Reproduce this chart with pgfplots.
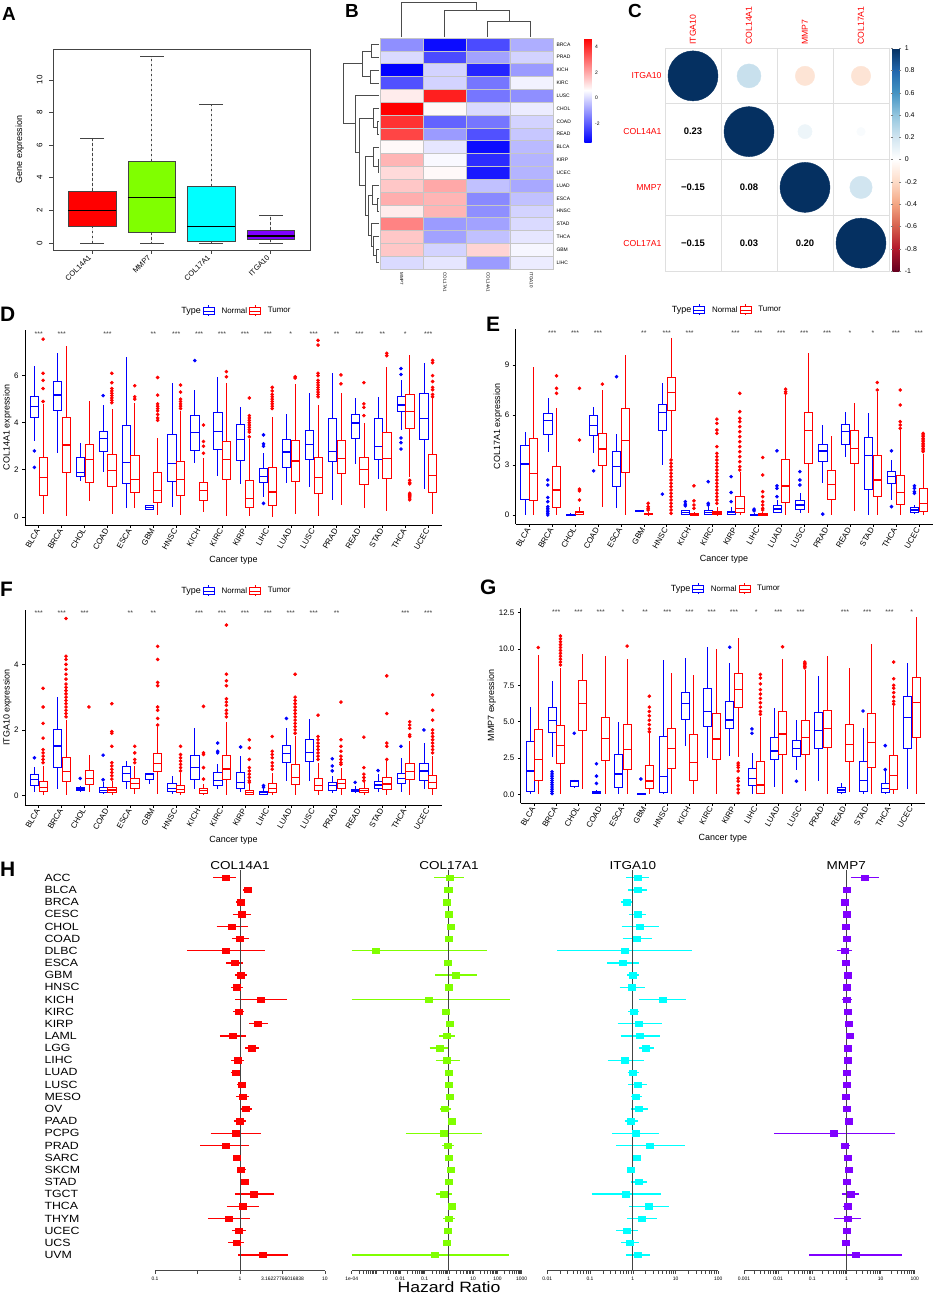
\documentclass[border=0pt]{standalone}
\usepackage{fontspec}
\setmainfont{Liberation Sans}
\newfontfamily\wide[FakeStretch=1.18]{Liberation Sans}
\usepackage{pgfplots}
\pgfplotsset{compat=1.18}
\usepgfplotslibrary{statistics}
\definecolor{lgreen}{HTML}{80FF00}
\definecolor{cyn}{HTML}{00FFFF}
\definecolor{vio}{HTML}{8000FF}
\definecolor{dkgray}{HTML}{444444}
\definecolor{nblue}{HTML}{0000FF}
\definecolor{tred}{HTML}{FF0000}
\newcommand{\fs}[1]{\fontsize{#1}{#1}\selectfont}

\pgfplotsset{
  /pgf/number format/assume math mode=true,
  colormap={bwr}{rgb255=(0,0,255) rgb255=(255,255,255) rgb255=(255,0,0)},
  colormap={rdbu}{rgb255=(103,0,31) rgb255=(178,24,43) rgb255=(214,96,77) rgb255=(244,165,130) rgb255=(253,219,199) rgb255=(255,255,255) rgb255=(209,229,240) rgb255=(146,197,222) rgb255=(67,147,195) rgb255=(33,102,172) rgb255=(5,48,97)},
  boxkey/.style={legend image code/.code={\draw[##1,line width=0.6pt] (0bp,-3.5bp) rectangle (11bp,3.5bp) (0bp,0bp)--(11bp,0bp) (5.5bp,3.5bp)--(5.5bp,5.5bp) (5.5bp,-3.5bp)--(5.5bp,-5.5bp);}},
  stars/.style={only marks, mark=text, text mark={}, nodes near coords,
    point meta=explicit symbolic, nodes near coords style={anchor=center, text=black!75, font=\fs{7}}},
  gg/.style={scale only axis, width=417bp, height=195bp, xmin=0.4, xmax=18.6,
    xtick={1,...,18},
    xticklabels={BLCA,BRCA,CHOL,COAD,ESCA,GBM,HNSC,KICH,KIRC,KIRP,LIHC,LUAD,LUSC,PRAD,READ,STAD,THCA,UCEC},
    axis x line*=bottom, axis y line*=left, tick align=outside, major tick length=2.8bp,
    tick style={black, line width=0.5pt}, axis line style={line width=0.6pt},
    xticklabel style={rotate=60, anchor=east, font=\fs{8}, inner sep=1.5bp},
    yticklabel style={font=\fs{8}},
    xlabel={Cancer type}, xlabel style={font=\fs{9}}, ylabel style={font=\fs{9}}, ylabel shift=-4bp,
    boxplot/draw direction=y, boxplot/box extend=0.36, boxplot/whisker extend=0,
    legend style={at={(0.5,1)}, anchor=south, yshift=11bp, draw=none, fill=none, font=\fs{8},
      legend columns=3, /tikz/every odd column/.append style={column sep=5bp}}},
  forestax/.style={scale only axis, height=401.6bp, ymin=-0.3, ymax=32.7,
    axis x line*=bottom, axis y line*=left, y axis line style={draw=none}, ytick style={draw=none},
    ytick=\empty, tick align=outside, major tick length=3bp,
    x axis line style={gray!55!black, line width=0.8pt}, xtick style={gray!55!black, line width=0.6pt},
    xticklabel style={font=\fs{5}}, title style={font=\wide\fs{11.5}, anchor=base, yshift=-6bp}, clip=false},
}

% box of the grouped box plots: position, colour, lower whisker, q1, median, q3, upper whisker, outliers
% (the -50 row lies outside every axis and is clipped away; it keeps the plot non-empty)
\newcommand{\bx}[8]{\addplot[color=#2, draw=#2, line width=0.6pt, mark=*, mark size=1.5bp, mark options={fill=#2, draw=#2},
  boxplot/every box/.style={draw=#2, fill=white, line width=0.6pt},
  boxplot/every whisker/.style={draw=#2, line width=0.6pt},
  boxplot/every median/.style={draw=#2, line width=1.2pt},
  boxplot prepared={draw position=#1, lower whisker=#3, lower quartile=#4, median=#5, upper quartile=#6, upper whisker=#7}]
  table[row sep=\\, y index=0] {v\\-50\\#8};}
\newcommand{\bN}[7]{\bx{#1-0.19}{nblue}{#2}{#3}{#4}{#5}{#6}{#7}}
\newcommand{\bT}[7]{\bx{#1+0.19}{tred}{#2}{#3}{#4}{#5}{#6}{#7}}
% forest row: y, HR, lower, upper
\newcommand{\fr}[4]{\addplot[draw=\fcol, line width=1.3bp] coordinates {(#3,#1)(#4,#1)};
  \addplot[draw=\fcol, fill=\fcol, only marks, mark=square*, mark size=2.7bp, mark options={xscale=1.3}] coordinates {(#2,#1)};}

\begin{document}
\begin{tikzpicture}
\useasboundingbox (0,0) rectangle (934bp,-1293bp);

% ---------- dendrograms of B, pixel coordinates
\begin{axis}[at={(0bp,-1293bp)}, anchor=south west, scale only axis, width=934bp, height=1293bp,
  xmin=0, xmax=934, ymin=0, ymax=1293, y dir=reverse, hide axis, clip=false]
\addplot[gray!60!black, line width=0.5pt, unbounded coords=jump] coordinates {
 (487.3,37)(487.3,21)(530.6,21)(530.6,37) (nan,nan)
 (444.1,37)(444.1,10)(509,10)(509,21) (nan,nan)
 (401.6,37)(401.6,2)(476.5,2)(476.5,10) (nan,nan)
 (379,44.4)(371,44.4)(371,57.2)(379,57.2) (nan,nan)
 (379,70)(370,70)(370,82.8)(379,82.8) (nan,nan)
 (371,50.8)(362,50.8)(362,76.4)(370,76.4) (nan,nan)
 (379,121.2)(377,121.2)(377,134)(379,134) (nan,nan)
 (379,108.4)(373,108.4)(373,127.6)(377,127.6) (nan,nan)
 (379,159.6)(378,159.6)(378,172.4)(379,172.4) (nan,nan)
 (379,146.8)(373,146.8)(373,166)(378,166) (nan,nan)
 (379,198)(377,198)(377,210.8)(379,210.8) (nan,nan)
 (379,185.2)(372,185.2)(372,204.4)(377,204.4) (nan,nan)
 (379,249.2)(376,249.2)(376,262)(379,262) (nan,nan)
 (379,236.4)(373,236.4)(373,255.6)(376,255.6) (nan,nan)
 (379,223.6)(371,223.6)(371,246)(373,246) (nan,nan)
 (372,194.8)(368,194.8)(368,234.8)(371,234.8) (nan,nan)
 (373,156.4)(365,156.4)(365,214.8)(368,214.8) (nan,nan)
 (373,118)(359,118)(359,185.6)(365,185.6) (nan,nan)
 (379,95.6)(355,95.6)(355,151.8)(359,151.8) (nan,nan)
 (362,63.6)(343,63.6)(343,123.7)(355,123.7)
};
\end{axis}

% ---------- A
\begin{axis}[at={(53bp,-250bp)}, anchor=south west, scale only axis, width=257bp, height=201bp,
  xmin=0.34, xmax=4.66, ymin=-0.43, ymax=11.9, xtick={1,2,3,4},
  xticklabels={COL14A1,MMP7,COL17A1,ITGA10}, ytick={0,2,4,6,8,10},
  xtick pos=bottom, ytick pos=left, tick align=outside, major tick length=4bp,
  axis line style={dkgray, line width=0.7pt}, tick style={dkgray, line width=0.6pt},
  xticklabel style={rotate=45, anchor=east, font=\fs{7.5}},
  yticklabel style={rotate=90, anchor=south, font=\fs{8}}, yticklabel shift=3bp,
  ylabel={Gene expression}, ylabel style={font=\fs{9}}, ylabel shift=6bp,
  boxplot/draw direction=y, boxplot/box extend=0.8, boxplot/whisker extend=0,
  boxplot/every whisker/.style={dkgray, dash pattern=on 2.5bp off 2.5bp},
  boxplot/every median/.style={black, line width=1.6pt}]
\addplot[draw=dkgray, fill=red, line width=0.6pt, boxplot prepared={draw position=1, lower whisker=0, lower quartile=1.05, median=2.0, upper quartile=3.2, upper whisker=6.45}] table[row sep=\\, y index=0] {v\\-50\\};
\addplot[draw=dkgray, fill=lgreen, line width=0.6pt, boxplot prepared={draw position=2, lower whisker=0, lower quartile=0.65, median=2.8, upper quartile=5.0, upper whisker=11.45}] table[row sep=\\, y index=0] {v\\-50\\};
\addplot[draw=dkgray, fill=cyn, line width=0.6pt, boxplot prepared={draw position=3, lower whisker=0, lower quartile=0.12, median=1.02, upper quartile=3.48, upper whisker=8.5}] table[row sep=\\, y index=0] {v\\-50\\};
\addplot[draw=dkgray, fill=vio, line width=0.6pt, boxplot prepared={draw position=4, lower whisker=0, lower quartile=0.22, median=0.42, upper quartile=0.8, upper whisker=1.68}] table[row sep=\\, y index=0] {v\\-50\\};
\addplot[only marks, mark=-, mark size=11.9bp, dkgray, mark options={line width=0.6pt}] coordinates {(1,0)(1,6.45)(2,0)(2,11.45)(3,0)(3,8.5)(4,0)(4,1.68)};
\end{axis}

% ---------- B
\begin{axis}[at={(380bp,-269bp)}, anchor=south west, scale only axis, width=173bp, height=231bp,
  xmin=0.5, xmax=4.5, ymin=0.5, ymax=18.5, axis on top,
  xtick={1,2,3,4}, xticklabels={MMP7,COL17A1,COL14A1,ITGA10},
  xticklabel style={rotate=-90, anchor=west, font=\fs{4.5}},
  ytick={1,...,18}, yticklabels={LIHC,GBM,THCA,STAD,HNSC,ESCA,LUAD,UCEC,KIRP,BLCA,READ,COAD,CHOL,LUSC,KIRC,KICH,PRAD,BRCA},
  yticklabel pos=right, yticklabel style={font=\fs{5}},
  major tick length=0, minor tick length=0,
  minor xtick={0.5,1.5,2.5,3.5,4.5}, minor ytick={0.5,1.5,...,18.5}, grid=minor,
  minor grid style={gray!45, line width=0.5pt}, axis line style={gray!45, line width=0.5pt},
  colormap name=bwr, point meta min=-3.5, point meta max=4.7, colorbar,
  colorbar style={at={(1.181,1)}, anchor=north west, width=7.4bp, height=104.4bp,
    ytick={-2,0,2,4}, yticklabel style={font=\fs{5}}, major tick length=0, axis line style={draw=none}}]
\addplot[matrix plot*, mesh/cols=4, point meta=explicit] table[meta=c, row sep=\\] {
x y c\\
1 1 0.0\\ 2 1 0.2\\ 3 1 -1.0\\ 4 1 0.3\\
1 2 1.5\\ 2 2 -0.1\\ 3 2 1.3\\ 4 2 0.45\\
1 3 1.5\\ 2 3 -0.9\\ 3 3 -0.4\\ 4 3 0.2\\
1 4 2.6\\ 2 4 -1.0\\ 3 4 -0.9\\ 4 4 0.0\\
1 5 0.9\\ 2 5 1.8\\ 3 5 -1.2\\ 4 5 -0.1\\
1 6 1.9\\ 2 6 1.8\\ 3 6 -1.3\\ 4 6 -0.4\\
1 7 1.5\\ 2 7 2.0\\ 3 7 -0.4\\ 4 7 -0.8\\
1 8 1.2\\ 2 8 0.7\\ 3 8 -3.1\\ 4 8 -0.6\\
1 9 1.8\\ 2 9 0.5\\ 3 9 -2.8\\ 4 9 -0.6\\
1 10 0.7\\ 2 10 0.2\\ 3 10 -3.3\\ 4 10 -0.5\\
1 11 3.6\\ 2 11 -1.0\\ 3 11 -2.2\\ 4 11 -0.3\\
1 12 3.9\\ 2 12 -1.9\\ 3 12 -1.6\\ 4 12 -0.1\\
1 13 4.7\\ 2 13 0.7\\ 3 13 0.0\\ 4 13 0.3\\
1 14 0.9\\ 2 14 4.2\\ 3 14 -1.6\\ 4 14 -1.2\\
1 15 -2.2\\ 2 15 -0.1\\ 3 15 -1.6\\ 4 15 0.4\\
1 16 -3.5\\ 2 16 -0.1\\ 3 16 -2.9\\ 4 16 -1.0\\
1 17 0.0\\ 2 17 -2.3\\ 3 17 -0.9\\ 4 17 -0.1\\
1 18 -1.2\\ 2 18 -3.3\\ 3 18 -2.3\\ 4 18 -0.7\\
};
\end{axis}

% ---------- C
\begin{axis}[at={(665bp,-271bp)}, anchor=south west, scale only axis, width=224bp, height=223bp,
  xmin=0.5, xmax=4.5, ymin=0.5, ymax=4.5,
  xtick={1,2,3,4}, xticklabels={ITGA10,COL14A1,MMP7,COL17A1},
  ytick={1,2,3,4}, yticklabels={COL17A1,MMP7,COL14A1,ITGA10},
  xticklabel pos=upper, xticklabel style={rotate=90, anchor=west, text=red, font=\fs{8.7}},
  yticklabel style={text=red, font=\fs{8.7}},
  major tick length=0, minor tick length=0,
  minor xtick={0.5,1.5,2.5,3.5,4.5}, minor ytick={0.5,1.5,2.5,3.5,4.5}, grid=minor,
  minor grid style={gray!25, line width=0.7pt}, axis line style={gray!25, line width=0.7pt},
  colormap name=rdbu, point meta min=-1, point meta max=1, colorbar,
  colorbar style={at={(1.0165,1)}, anchor=north west, width=6.7bp,
    ytick={-1,-0.8,-0.6,-0.4,-0.2,0,0.2,0.4,0.6,0.8,1}, yticklabel style={font=\fs{7}},
    tick align=outside, major tick length=2bp, axis line style={draw=none}}]
\addplot[scatter, only marks, mark=*, point meta=explicit,
  scatter/use mapped color={draw=mapped color, fill=mapped color},
  visualization depends on={\thisrow{r}\as\rr},
  scatter/@pre marker code/.append style={/tikz/mark size=\rr bp}]
  table[meta=c, row sep=\\] {
x y c r\\
1 4 1 25\\ 2 4 0.23 12.0\\ 3 4 -0.15 9.7\\ 4 4 -0.15 9.7\\
2 3 1 25\\ 3 3 0.08 7.1\\ 4 3 0.03 4.3\\
3 2 1 25\\ 4 2 0.20 11.2\\
4 1 1 25\\
};
\addplot[only marks, mark=text, text mark={}, nodes near coords, point meta=explicit symbolic,
  nodes near coords style={anchor=center, text=black, font=\bfseries\fs{9.5}}] table[meta=s, row sep=\\] {
x y s\\
1 3 0.23\\ 1 2 −0.15\\ 2 2 0.08\\ 1 1 −0.15\\ 2 1 0.03\\ 3 1 0.20\\
};
\end{axis}

% ---------- D
\begin{axis}[gg, at={(25bp,-525bp)}, anchor=south west, ymin=-0.35, ymax=7.94, ytick={0,2,4,6},
  ylabel={COL14A1 expression}]
\addlegendimage{empty legend}\addlegendentry{\fs{9}Type}
\addlegendimage{nblue, boxkey}\addlegendentry{Normal}
\addlegendimage{tred, boxkey}\addlegendentry{Tumor}
\bN{1}{3.2}{4.23}{4.68}{5.1}{6.43}{2.8\\2.1\\}
\bT{1}{0.1}{0.92}{1.66}{2.51}{4.8}{7.55\\6.1\\5.8\\5.45\\4.9\\}
\bN{2}{2.7}{4.51}{5.18}{5.74}{6.95}{}
\bT{2}{0.03}{1.91}{3.05}{4.21}{7.26}{}
\bN{3}{1.5}{1.74}{1.89}{2.51}{3.15}{}
\bT{3}{0.65}{1.46}{2.45}{3.08}{4.94}{}
\bN{4}{1.9}{2.77}{3.33}{3.62}{4.75}{5.15\\}
\bT{4}{0.1}{1.3}{1.96}{2.65}{4.6}{6.1\\5.7\\5.45\\5.35\\5.25\\5.15\\5.05\\4.95\\4.85\\}
\bN{5}{0.37}{1.42}{2.3}{3.87}{6.78}{}
\bT{5}{0.37}{1.02}{1.59}{2.6}{4.82}{5.57\\5.1\\5.0\\}
\bN{6}{0.3}{0.33}{0.41}{0.47}{0.47}{}
\bT{6}{0.08}{0.61}{1.13}{1.89}{3.33}{5.92\\5.17\\4.8\\4.7\\4.6\\4.5\\4.35\\4.2\\4.1\\}
\bN{7}{0.4}{1.49}{2.27}{3.52}{5.67}{}
\bT{7}{0.08}{0.92}{1.59}{2.37}{4.5}{5.6\\5.3\\5.0\\4.9\\4.8\\4.7\\4.6\\}
\bN{8}{2.3}{2.84}{3.59}{4.33}{5.39}{6.64\\}
\bT{8}{0.2}{0.71}{1.13}{1.45}{2.48}{3.9\\3.2\\3.0\\2.7\\}
\bN{9}{1.75}{2.87}{3.63}{4.44}{5.96}{}
\bT{9}{0.05}{1.59}{2.45}{3.19}{5.67}{6.17\\5.95\\}
\bN{10}{1.4}{2.38}{3.29}{3.93}{4.68}{}
\bT{10}{0.03}{0.4}{0.77}{1.56}{3.3}{5.05\\4.3\\4.2\\4.1\\4.0\\3.9\\3.8\\3.7\\3.6\\3.4\\}
\bN{11}{0.85}{1.46}{1.7}{2.06}{2.72}{3.48\\3.1\\3.0\\0.57\\}
\bT{11}{0.0}{0.5}{1.05}{2.09}{4.26}{5.5\\5.35\\5.2\\5.1\\5.0\\4.9\\4.8\\4.7\\4.6\\}
\bN{12}{1.45}{2.09}{2.75}{3.29}{4.37}{}
\bT{12}{0.1}{1.49}{2.37}{3.23}{5.65}{5.95\\5.9\\}
\bN{13}{1.25}{2.44}{3.08}{3.67}{5.25}{}
\bT{13}{0.03}{0.99}{1.67}{2.51}{4.75}{7.5\\7.3\\6.1\\6.0\\5.8\\5.7\\5.6\\5.5\\5.4\\5.3\\5.2\\5.1\\}
\bN{14}{0.7}{2.34}{2.77}{4.17}{6.1}{}
\bT{14}{0.5}{1.84}{2.47}{3.26}{5.25}{6.03\\5.65\\}
\bN{15}{2.25}{3.33}{3.99}{4.34}{5.03}{}
\bT{15}{0.37}{1.38}{2.01}{2.52}{3.97}{5.7\\4.8\\4.65\\4.3\\}
\bN{16}{1.6}{2.45}{2.98}{4.18}{5.1}{}
\bT{16}{0.25}{1.62}{2.48}{3.57}{6.38}{6.95\\6.85\\}
\bN{17}{3.7}{4.5}{4.75}{5.1}{5.8}{6.3\\6.05\\3.35\\3.15\\2.88\\}
\bT{17}{1.7}{3.76}{4.47}{5.22}{6.88}{1.55\\1.45\\1.4\\1.0\\0.95\\0.9\\0.85\\0.8\\0.72\\}
\bN{18}{1.2}{3.29}{4.18}{5.25}{6.52}{}
\bT{18}{0.13}{1.05}{1.74}{2.65}{5.05}{6.65\\6.55\\6.0\\5.75\\5.5\\5.4\\5.2\\5.1\\}
\addplot[stars] table[meta=s, row sep=\\] {x y s\\
1 7.77 ***\\ 2 7.77 ***\\ 4 7.77 ***\\ 6 7.77 **\\ 7 7.77 ***\\ 8 7.77 ***\\ 9 7.77 ***\\ 10 7.77 ***\\
11 7.77 ***\\ 12 7.77 *\\ 13 7.77 ***\\ 14 7.77 **\\ 15 7.77 ***\\ 16 7.77 **\\ 17 7.77 *\\ 18 7.77 ***\\};
\end{axis}

% ---------- E
\begin{axis}[gg, at={(515.5bp,-524bp)}, anchor=south west, ymin=-0.54, ymax=11.16, ytick={0,3,6,9},
  ylabel={COL17A1 expression}]
\addlegendimage{empty legend}\addlegendentry{\fs{9}Type}
\addlegendimage{nblue, boxkey}\addlegendentry{Normal}
\addlegendimage{tred, boxkey}\addlegendentry{Tumor}
\bN{1}{0}{0.94}{3.06}{4.2}{5.0}{}
\bT{1}{0}{0.9}{2.5}{4.6}{8.86}{}
\bN{2}{3.8}{4.86}{5.66}{6.1}{7.0}{2.1\\1.8\\1.05\\0.8\\0.5\\0.4\\0.3\\0.2\\0.1\\0.0\\}
\bT{2}{0}{0.46}{1.5}{2.94}{6.4}{8.35\\7.6\\7.3\\}
\bN{3}{0}{0.0}{0.02}{0.05}{0.12}{}
\bT{3}{0}{0.04}{0.14}{0.24}{0.5}{7.6\\4.5\\1.55\\1.45\\0.9\\}
\bN{4}{3.7}{4.8}{5.36}{5.96}{6.46}{2.65\\}
\bT{4}{0.45}{2.96}{3.96}{4.9}{7.5}{7.85\\}
\bN{5}{0.4}{1.74}{2.9}{3.8}{4.86}{8.3\\}
\bT{5}{0}{2.54}{4.46}{6.4}{9.6}{}
\bN{6}{0.2}{0.22}{0.26}{0.3}{0.3}{}
\bT{6}{0}{0.02}{0.05}{0.1}{0.15}{0.7\\0.5\\0.4\\0.3\\}
\bN{7}{3.0}{5.1}{6.14}{6.64}{7.9}{1.25\\}
\bT{7}{3.4}{6.26}{7.34}{8.24}{10.6}{3.3\\3.1\\2.9\\2.7\\2.5\\2.3\\2.1\\1.9\\1.7\\1.5\\1.3\\1.1\\0.9\\0.7\\0.5\\0.3\\0.1\\}
\bN{8}{0}{0.06}{0.16}{0.26}{0.3}{0.8\\0.65\\0.55\\}
\bT{8}{0}{0.0}{0.04}{0.1}{0.15}{1.75\\0.85\\0.6\\0.4\\}
\bN{9}{0}{0.04}{0.14}{0.26}{0.55}{2.0\\0.7\\0.6\\}
\bT{9}{0}{0.02}{0.12}{0.22}{0.5}{5.75\\5.5\\5.1\\4.9\\4.1\\3.7\\3.5\\3.3\\3.1\\2.9\\2.7\\2.5\\2.3\\2.1\\1.9\\1.7\\1.5\\1.3\\1.1\\0.9\\0.7\\}
\bN{10}{0}{0.04}{0.14}{0.22}{0.45}{2.3\\1.35\\0.8\\}
\bT{10}{0}{0.16}{0.38}{1.14}{2.6}{7.3\\6.2\\5.8\\5.6\\5.3\\5.0\\4.7\\4.4\\4.1\\3.8\\3.5\\3.2\\2.9\\2.7\\}
\bN{11}{0}{0.0}{0.02}{0.04}{0.1}{0.35\\0.25\\}
\bT{11}{0}{0.0}{0.04}{0.1}{0.2}{3.45\\2.4\\1.4\\1.1\\0.8\\0.6\\0.4\\0.3\\}
\bN{12}{0.1}{0.16}{0.36}{0.56}{0.9}{3.85\\1.75\\1.6\\1.1\\}
\bT{12}{0}{0.76}{1.74}{3.34}{7.2}{7.55\\7.4\\7.3\\}
\bN{13}{0.1}{0.34}{0.6}{0.9}{1.34}{2.6\\2.1\\1.8\\}
\bT{13}{0.1}{3.1}{5.06}{6.14}{9.7}{}
\bN{14}{1.9}{3.24}{3.84}{4.26}{5.4}{0.05\\}
\bT{14}{0}{0.96}{1.84}{2.7}{4.74}{}
\bN{15}{3.5}{4.26}{5.02}{5.46}{6.2}{}
\bT{15}{0.25}{3.1}{4.0}{5.06}{6.7}{}
\bN{16}{0}{1.54}{3.56}{4.64}{6.1}{}
\bT{16}{0}{1.1}{2.1}{3.56}{7.4}{7.95\\7.5\\}
\bN{17}{0.9}{1.9}{2.3}{2.64}{3.3}{3.85\\0.5\\}
\bT{17}{0}{0.64}{1.34}{2.4}{5.1}{7.5\\6.6\\5.6\\5.4\\5.2\\}
\bN{18}{0.05}{0.16}{0.3}{0.44}{0.6}{1.75\\1.6\\1.4\\1.3\\}
\bT{18}{0}{0.24}{0.7}{1.6}{3.64}{4.9\\4.8\\4.7\\4.6\\4.5\\4.4\\4.3\\4.2\\4.1\\4.0\\3.9\\3.8\\}
\addplot[stars] table[meta=s, row sep=\\] {x y s\\
2 10.94 ***\\ 3 10.94 ***\\ 4 10.94 ***\\ 6 10.94 **\\ 7 10.94 ***\\ 8 10.94 ***\\ 10 10.94 ***\\ 11 10.94 ***\\
12 10.94 ***\\ 13 10.94 ***\\ 14 10.94 ***\\ 15 10.94 *\\ 16 10.94 *\\ 17 10.94 ***\\ 18 10.94 ***\\};
\end{axis}

% ---------- F
\begin{axis}[gg, at={(25bp,-805bp)}, anchor=south west, ymin=-0.29, ymax=5.66, ytick={0,2,4},
  ylabel={ITGA10 expression}]
\addlegendimage{empty legend}\addlegendentry{\fs{9}Type}
\addlegendimage{nblue, boxkey}\addlegendentry{Normal}
\addlegendimage{tred, boxkey}\addlegendentry{Tumor}
\bN{1}{0.12}{0.32}{0.5}{0.65}{0.88}{1.15\\}
\bT{1}{0.02}{0.14}{0.25}{0.44}{0.9}{3.27\\2.7\\2.2\\1.75\\1.4\\1.3\\1.2\\1.1\\1.0\\}
\bN{2}{0.2}{0.86}{1.51}{2.02}{3.02}{}
\bT{2}{0.02}{0.43}{0.74}{1.17}{2.3}{5.4\\4.25\\4.15\\4.0\\3.85\\3.7\\3.55\\3.4\\3.3\\3.2\\3.1\\3.0\\2.9\\2.8\\2.7\\2.6\\2.5\\2.4\\}
\bN{3}{0.12}{0.15}{0.2}{0.24}{0.28}{0.52\\}
\bT{3}{0.12}{0.34}{0.51}{0.76}{1.25}{2.7\\}
\bN{4}{0.05}{0.1}{0.15}{0.25}{0.4}{1.23\\0.48\\}
\bT{4}{0.02}{0.09}{0.17}{0.24}{0.45}{2.8\\1.95\\1.9\\1.5\\1.0\\0.9\\0.8\\0.7\\0.6\\0.5\\}
\bN{5}{0.2}{0.43}{0.68}{0.88}{1.05}{}
\bT{5}{0.05}{0.21}{0.36}{0.52}{0.9}{1.5\\1.3\\1.1\\1.0\\}
\bN{6}{0.35}{0.5}{0.65}{0.68}{0.7}{}
\bT{6}{0.05}{0.73}{0.98}{1.29}{2.1}{4.55\\4.15\\3.45\\3.35\\2.7\\2.6\\2.35\\2.15\\}
\bN{7}{0.05}{0.12}{0.21}{0.38}{0.6}{}
\bT{7}{0.0}{0.1}{0.19}{0.31}{0.7}{1.5\\1.25\\1.15\\1.05\\0.95\\0.85\\0.75\\}
\bN{8}{0.2}{0.5}{0.85}{1.24}{2.05}{}
\bT{8}{0.02}{0.07}{0.14}{0.22}{0.35}{2.72\\1.3\\1.25\\0.85\\0.5\\}
\bN{9}{0.2}{0.32}{0.45}{0.71}{0.95}{1.6\\1.35\\1.3\\}
\bT{9}{0.02}{0.5}{0.81}{1.22}{2.25}{5.2\\3.7\\3.5\\3.35\\2.95\\2.85\\2.75\\2.6\\2.5\\2.4\\}
\bN{10}{0.1}{0.21}{0.4}{0.71}{1.2}{1.48\\}
\bT{10}{0.0}{0.05}{0.1}{0.17}{0.35}{1.7\\1.45\\1.1\\0.85\\0.75\\0.65\\0.55\\0.45\\0.4\\}
\bN{11}{0.02}{0.04}{0.08}{0.13}{0.2}{0.3\\0.25\\}
\bT{11}{0.0}{0.1}{0.22}{0.36}{0.7}{1.8\\1.35\\1.25\\1.15\\1.0\\0.9\\0.8\\}
\bN{12}{0.45}{1.02}{1.29}{1.54}{2.05}{2.35\\}
\bT{12}{0.0}{0.34}{0.56}{0.96}{1.8}{3.7\\3.0\\2.9\\2.8\\2.7\\2.6\\2.5\\2.4\\2.3\\2.2\\2.1\\2.0\\1.9\\}
\bN{13}{0.45}{1.04}{1.32}{1.72}{2.33}{}
\bT{13}{0.0}{0.17}{0.31}{0.51}{1.0}{2.45\\1.8\\1.7\\1.6\\1.5\\1.4\\1.3\\1.2\\1.1\\}
\bN{14}{0.08}{0.17}{0.3}{0.4}{0.6}{1.12\\0.9\\0.75\\}
\bT{14}{0.02}{0.22}{0.36}{0.5}{0.85}{2.85\\1.7\\1.5\\1.35\\1.2\\1.1\\1.0\\0.95\\}
\bN{15}{0.1}{0.12}{0.17}{0.2}{0.3}{0.4\\}
\bT{15}{0.02}{0.09}{0.16}{0.22}{0.4}{1.78\\0.85\\0.65\\0.55\\0.45\\}
\bN{16}{0.1}{0.22}{0.32}{0.43}{0.65}{0.76\\}
\bT{16}{0.02}{0.2}{0.35}{0.56}{1.05}{3.65\\2.5\\1.6\\1.5\\1.1\\}
\bN{17}{0.1}{0.38}{0.53}{0.68}{1.15}{1.5\\}
\bT{17}{0.0}{0.5}{0.72}{0.98}{1.65}{2.25\\2.15\\2.05\\1.85\\1.8\\}
\bN{18}{0.2}{0.45}{0.75}{0.98}{1.6}{2.0\\}
\bT{18}{0.0}{0.21}{0.4}{0.61}{1.2}{3.07\\2.6\\2.3\\2.0\\1.9\\1.8\\1.7\\1.6\\1.5\\1.4\\1.3\\}
\addplot[stars] table[meta=s, row sep=\\] {x y s\\
1 5.56 ***\\ 2 5.56 ***\\ 3 5.56 ***\\ 5 5.56 **\\ 6 5.56 **\\ 8 5.56 ***\\ 9 5.56 ***\\ 10 5.56 ***\\
11 5.56 ***\\ 12 5.56 ***\\ 13 5.56 ***\\ 14 5.56 **\\ 17 5.56 ***\\ 18 5.56 ***\\};
\end{axis}

% ---------- G
\begin{axis}[gg, at={(520.7bp,-803bp)}, anchor=south west, width=404.3bp, ymin=-0.6, ymax=12.82,
  ytick={0,2.5,5,7.5,10,12.5},
  yticklabel style={font=\fs{8}, /pgf/number format/.cd, fixed, fixed zerofill, precision=1},
  ylabel={MMP7 expression}]
\addlegendimage{empty legend}\addlegendentry{\fs{9}Type}
\addlegendimage{nblue, boxkey}\addlegendentry{Normal}
\addlegendimage{tred, boxkey}\addlegendentry{Tumor}
\bN{1}{0}{0.18}{1.6}{3.62}{6.03}{}
\bT{1}{0}{0.99}{2.41}{4.47}{9.59}{10.1\\}
\bN{2}{2.6}{4.24}{5.07}{5.96}{7.82}{1.55\\1.4\\1.25\\1.1\\0.95\\0.8\\0.65\\0.5\\0.35\\0.2\\0.05\\}
\bT{2}{0}{2.13}{3.37}{4.72}{8.7}{10.9\\10.7\\10.5\\10.3\\10.1\\9.9\\9.7\\9.5\\9.3\\9.1\\8.9\\}
\bN{3}{0.45}{0.53}{0.92}{0.99}{1.0}{4.2\\}
\bT{3}{0.35}{4.38}{6.24}{7.87}{9.63}{}
\bN{4}{0.05}{0.07}{0.15}{0.23}{0.3}{2.1\\1.25\\0.75\\}
\bT{4}{0}{2.32}{3.85}{5.3}{9.54}{}
\bN{5}{0}{0.46}{1.4}{2.75}{5.0}{}
\bT{5}{0}{1.72}{3.1}{4.82}{9.31}{10.2\\}
\bN{6}{0}{0}{0.01}{0.05}{0.05}{1.05\\}
\bT{6}{0}{0.41}{0.92}{1.97}{4.2}{6.75\\6.0\\5.7\\5.4\\5.1\\4.8\\4.5\\4.3\\}
\bN{7}{0}{0.11}{1.22}{3.97}{9.24}{}
\bT{7}{0}{1.77}{3.17}{4.54}{8.37}{}
\bN{8}{3.35}{5.16}{6.26}{7.02}{9.36}{}
\bT{8}{0}{0.99}{2.2}{4.15}{8.21}{}
\bN{9}{2.5}{4.66}{5.69}{7.29}{10.16}{}
\bT{9}{0}{2.41}{3.81}{5.57}{9.98}{}
\bN{10}{2.65}{4.54}{5.11}{6.38}{9.01}{10.12\\}
\bT{10}{2.6}{5.99}{7.22}{8.33}{10.78}{2.15\\2.0\\1.85\\1.6\\1.1\\0.9\\0.6\\0.35\\0.1\\}
\bN{11}{0.05}{0.6}{1.1}{1.79}{2.85}{4.5\\4.2\\}
\bT{11}{0}{0.07}{0.64}{2.25}{5.3}{8.25\\8.0\\7.6\\7.2\\6.9\\6.6\\6.3\\6.0\\5.7\\5.5\\}
\bN{12}{0.5}{2.41}{2.98}{3.9}{5.96}{}
\bT{12}{0}{2.78}{4.15}{5.69}{9.31}{10.15\\}
\bN{13}{1.65}{2.64}{3.17}{3.74}{5.1}{0.9\\}
\bT{13}{0.2}{2.78}{3.9}{5.11}{8.55}{9.1\\9.0\\8.9\\8.8\\8.7\\}
\bN{14}{0.9}{3.17}{4.38}{5.62}{8.17}{}
\bT{14}{0.05}{3.23}{4.54}{5.76}{9.52}{}
\bN{15}{0.05}{0.14}{0.3}{0.46}{0.8}{}
\bT{15}{0.15}{2.25}{3.44}{4.84}{8.67}{}
\bN{16}{0}{0.23}{0.96}{2.25}{4.54}{5.73\\}
\bT{16}{0}{1.86}{3.58}{5.57}{10.34}{}
\bN{17}{0}{0.14}{0.39}{0.76}{1.6}{3.35\\1.7\\}
\bT{17}{0}{0.34}{1.31}{2.66}{6.1}{9.1\\7.95\\7.5\\7.3\\7.0\\6.7\\6.4\\6.2\\}
\bN{18}{0.35}{3.19}{5.28}{6.72}{9.01}{}
\bT{18}{0.05}{3.92}{6.31}{8.03}{12.22}{}
\addplot[stars] table[meta=s, row sep=\\] {x y s\\
2 12.55 ***\\ 3 12.55 ***\\ 4 12.55 ***\\ 5 12.55 *\\ 6 12.55 **\\ 7 12.55 ***\\ 8 12.55 ***\\ 9 12.55 ***\\
10 12.55 ***\\ 11 12.55 *\\ 12 12.55 ***\\ 13 12.55 ***\\ 15 12.55 ***\\ 16 12.55 ***\\ 17 12.55 ***\\ 18 12.55 *\\};
\end{axis}

% ---------- H: forest plots (y: ACC = 32 ... UVM = 1)
\def\fcol{red}
\begin{axis}[xmode=log, forestax, at={(155bp,-1270.8bp)}, anchor=south west, width=170bp, xmin=0.1, xmax=10,
  xtick={0.1,0.316,1,3.162,10}, xticklabels={0.1,,1,3.16227766016838,10}, title={COL14A1},
  minor xtick={},
  ytick={1,...,32},
  yticklabels={UVM,UCS,UCEC,THYM,THCA,TGCT,STAD,SKCM,SARC,PRAD,PCPG,PAAD,OV,MESO,LUSC,LUAD,LIHC,LGG,LAML,KIRP,KIRC,KICH,HNSC,GBM,ESCA,DLBC,COAD,CHOL,CESC,BRCA,BLCA,ACC},
  yticklabel style={anchor=west, xshift=-111bp, font=\wide\fs{10.5}}]
\fr{32}{0.67}{0.485}{0.89} \fr{31}{1.22}{1.09}{1.37} \fr{30}{1.02}{0.9}{1.15} \fr{29}{1.05}{0.82}{1.33}
\fr{28}{0.8}{0.53}{1.23} \fr{27}{1.0}{0.81}{1.26} \fr{26}{0.68}{0.24}{1.99} \fr{25}{0.86}{0.68}{1.09}
\fr{24}{1.03}{0.87}{1.22} \fr{23}{0.91}{0.79}{1.09} \fr{22}{1.77}{0.88}{3.54} \fr{21}{0.96}{0.83}{1.12}
\fr{20}{1.63}{1.29}{2.11} \fr{19}{0.82}{0.58}{1.18} \fr{18}{1.36}{1.15}{1.66} \fr{17}{0.93}{0.79}{1.10}
\fr{16}{0.88}{0.78}{1.03} \fr{15}{1.05}{0.93}{1.18} \fr{14}{1.07}{0.9}{1.29} \fr{13}{1.16}{1.02}{1.37}
\fr{12}{0.98}{0.84}{1.18} \fr{11}{0.88}{0.45}{1.75} \fr{10}{0.67}{0.34}{1.29} \fr{9}{0.91}{0.83}{1.02}
\fr{8}{1.03}{0.92}{1.17} \fr{7}{1.15}{1.02}{1.29} \fr{6}{1.46}{0.87}{2.53} \fr{5}{1.08}{0.70}{1.69}
\fr{4}{0.74}{0.42}{1.32} \fr{3}{0.96}{0.8}{1.17} \fr{2}{0.91}{0.73}{1.12} \fr{1}{1.86}{0.96}{3.64}
\addplot[dkgray, line width=0.8pt] coordinates {(1,-0.2)(1,32.6)};
\end{axis}

\def\fcol{lgreen}
\begin{axis}[xmode=log, forestax, at={(351.7bp,-1270.8bp)}, anchor=south west, width=170bp, xmin=1e-4, xmax=1000,
  xtick={1e-4,1e-3,0.01,0.1,1,10,100,1000}, xticklabels={1e-04,,0.01,0.1,1,10,100,1000},
  minor xtick={},
  title={COL17A1}, title style={at={(0.572,1)}}]
\fr{32}{1.1}{0.24}{4.3} \fr{31}{0.94}{0.8}{1.15} \fr{30}{0.85}{0.75}{0.98} \fr{29}{1.0}{0.85}{1.15}
\fr{28}{1.17}{0.9}{1.45} \fr{27}{1.03}{0.88}{1.2} \fr{26}{0.00097}{0.0001}{37.6} \fr{25}{0.88}{0.78}{1.0}
\fr{24}{1.94}{0.27}{15.1} \fr{23}{1.0}{0.88}{1.12} \fr{22}{0.15}{0.0001}{318} \fr{21}{0.75}{0.62}{0.9}
\fr{20}{1.1}{0.95}{1.25} \fr{19}{0.8}{0.39}{1.76} \fr{18}{0.43}{0.16}{1.04} \fr{17}{0.85}{0.29}{2.8}
\fr{16}{1.03}{0.9}{1.15} \fr{15}{1.0}{0.88}{1.12} \fr{14}{1.1}{0.9}{1.3} \fr{13}{0.68}{0.43}{1.28}
\fr{12}{1.28}{1.1}{1.45} \fr{11}{0.62}{0.0166}{23.4} \fr{10}{0.88}{0.5}{1.6} \fr{9}{1.03}{0.9}{1.18}
\fr{8}{1.17}{1.0}{1.35} \fr{7}{1.0}{0.88}{1.12} \fr{6}{0.64}{0.31}{1.37} \fr{5}{1.28}{1.05}{1.6}
\fr{4}{1.0}{0.58}{1.76} \fr{3}{0.88}{0.78}{1.0} \fr{2}{0.8}{0.7}{0.95} \fr{1}{0.27}{0.0001}{300}
\addplot[dkgray, line width=0.8pt] coordinates {(1,-0.2)(1,32.6)};
\end{axis}

\def\fcol{cyn}
\begin{axis}[xmode=log, forestax, at={(547.3bp,-1270.8bp)}, anchor=south west, width=171bp, xmin=0.01, xmax=100,
  xtick={0.01,0.1,1,10,100}, xticklabels={0.01,0.1,1,10,100}, minor xtick={}, title={ITGA10}]
\fr{32}{1.31}{0.7}{2.45} \fr{31}{1.29}{0.79}{2.13} \fr{30}{0.72}{0.53}{0.95} \fr{29}{1.31}{0.82}{2.05}
\fr{28}{1.48}{0.55}{4.2} \fr{27}{1.26}{0.58}{2.78} \fr{26}{0.63}{0.017}{24} \fr{25}{0.58}{0.255}{1.36}
\fr{24}{1.0}{0.74}{1.4} \fr{23}{0.96}{0.49}{1.94} \fr{22}{4.94}{1.4}{17.3} \fr{21}{1.04}{0.79}{1.4}
\fr{20}{1.4}{0.44}{4.77} \fr{19}{1.48}{0.52}{4.36} \fr{18}{2.05}{1.43}{3.1} \fr{17}{0.66}{0.26}{1.78}
\fr{16}{1.0}{0.76}{1.38} \fr{15}{1.29}{0.79}{2.13} \fr{14}{1.18}{0.9}{1.62} \fr{13}{1.36}{0.9}{2.25}
\fr{12}{0.9}{0.64}{1.31} \fr{11}{1.18}{0.33}{4.1} \fr{10}{2.45}{0.4}{16.2} \fr{9}{1.26}{1.1}{1.45}
\fr{8}{0.9}{0.8}{1.02} \fr{7}{1.36}{0.9}{2.2} \fr{6}{0.7}{0.11}{4.6} \fr{5}{2.33}{0.82}{7.08}
\fr{4}{1.62}{0.74}{3.64} \fr{3}{0.72}{0.41}{1.29} \fr{2}{0.84}{0.53}{1.36} \fr{1}{1.31}{0.69}{2.59}
\addplot[dkgray, line width=0.8pt] coordinates {(1,-0.2)(1,32.6)};
\end{axis}

\def\fcol{vio}
\begin{axis}[xmode=log, forestax, at={(744bp,-1270.8bp)}, anchor=south west, width=170.7bp, xmin=0.001, xmax=100,
  xtick={0.001,0.01,0.1,1,10,100}, xticklabels={0.001,0.01,0.1,1,10,100}, minor xtick={},
  title={MMP7}, title style={at={(0.599,1)}}]
\fr{32}{3.53}{1.34}{9.3} \fr{31}{1.0}{0.9}{1.12} \fr{30}{0.91}{0.82}{1.0} \fr{29}{1.05}{0.95}{1.15}
\fr{28}{0.98}{0.85}{1.12} \fr{27}{1.0}{0.9}{1.1} \fr{26}{0.89}{0.54}{1.47} \fr{25}{0.93}{0.85}{1.02}
\fr{24}{1.09}{0.98}{1.2} \fr{23}{1.05}{0.95}{1.15} \fr{22}{1.05}{0.73}{1.5} \fr{21}{1.09}{0.98}{1.2}
\fr{20}{1.14}{1.02}{1.26} \fr{19}{1.22}{1.1}{1.35} \fr{18}{1.07}{0.96}{1.18} \fr{17}{1.12}{1.0}{1.24}
\fr{16}{1.05}{0.95}{1.15} \fr{15}{1.05}{0.95}{1.15} \fr{14}{0.96}{0.85}{1.08} \fr{13}{1.02}{0.92}{1.12}
\fr{12}{1.2}{1.08}{1.32} \fr{11}{0.43}{0.0077}{26.1} \fr{10}{0.89}{0.68}{1.28} \fr{9}{1.07}{0.96}{1.18}
\fr{8}{1.17}{1.05}{1.28} \fr{7}{1.02}{0.92}{1.12} \fr{6}{1.34}{0.73}{2.4} \fr{5}{1.07}{0.78}{1.43}
\fr{4}{1.07}{0.44}{2.63} \fr{3}{1.0}{0.9}{1.1} \fr{2}{0.93}{0.84}{1.03} \fr{1}{1.88}{0.081}{43.8}
\addplot[dkgray, line width=0.8pt] coordinates {(1,-0.2)(1,32.6)};
\end{axis}

\node[font=\wide\fs{15}] at (449bp,-1287bp) {Hazard Ratio};

% ---------- panel letters
\node[anchor=north west, inner sep=0, font=\bfseries\fs{19}] at (2bp,-7bp) {A};
\node[anchor=north west, inner sep=0, font=\bfseries\fs{19}] at (345bp,-4bp) {B};
\node[anchor=north west, inner sep=0, font=\bfseries\fs{19}] at (628bp,-4bp) {C};
\node[anchor=north west, inner sep=0, font=\bfseries\fs{21}] at (0bp,-307bp) {D};
\node[anchor=north west, inner sep=0, font=\bfseries\fs{21}] at (486bp,-317bp) {E};
\node[anchor=north west, inner sep=0, font=\bfseries\fs{21}] at (0bp,-582bp) {F};
\node[anchor=north west, inner sep=0, font=\bfseries\fs{21}] at (480bp,-580bp) {G};
\node[anchor=north west, inner sep=0, font=\bfseries\fs{21}] at (0bp,-862bp) {H};
\end{tikzpicture}
\end{document}
